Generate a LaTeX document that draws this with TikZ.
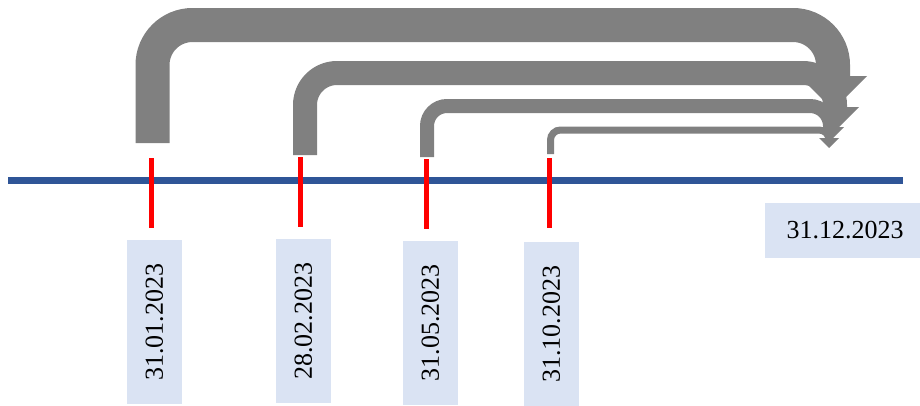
\documentclass[tikz,border=0pt]{standalone}
\usepackage{fontspec}
\setmainfont{Liberation Serif}
\begin{document}
\begin{tikzpicture}[x=1pt,y=-1pt,
  timeline/.style={draw={rgb,255:red,47;green,85;blue,151},line width=7pt},
  tick/.style={draw={rgb,255:red,255;green,0;blue,0},line width=5pt},
  datebox/.style={fill={rgb,255:red,218;green,227;blue,243},inner sep=0pt,
     font=\fontsize{26}{30}\selectfont},
  vbox/.style={datebox,rotate=90,minimum width=164pt,minimum height=55pt},
  bent/.style={draw={rgb,255:red,128;green,128;blue,128},line cap=butt},
  head/.style={fill={rgb,255:red,128;green,128;blue,128}}]
\useasboundingbox (0,0) rectangle (920,405);
\begin{scope}
\clip (0,0) rectangle (920,405);
% timeline
\coordinate (L) at (8,180);
\coordinate (R) at (903,180);
\draw[timeline] (L) -- (R);
% ticks
\coordinate (t1a) at (151,158); \coordinate (t1b) at (151,228);
\coordinate (t2a) at (300,157); \coordinate (t2b) at (300,227);
\coordinate (t3a) at (426,159); \coordinate (t3b) at (426,229);
\coordinate (t4a) at (549,158); \coordinate (t4b) at (549,228);
\draw[tick] (t1a) -- (t1b);
\draw[tick] (t2a) -- (t2b);
\draw[tick] (t3a) -- (t3b);
\draw[tick] (t4a) -- (t4b);
% labels
\node[vbox] (d1) at (154.5,322) {31.01.2023};
\node[vbox] (d2) at (303.5,321) {28.02.2023};
\node[vbox] (d3) at (430.5,322.5) {31.05.2023};
\node[vbox] (d4) at (551.5,324) {31.10.2023};
\node[datebox,minimum width=160pt,minimum height=55pt] (d5) at (845,230.5) {31.12.2023};
% arrow 1
\coordinate (a1s) at (152.5,143);
\coordinate (a1e) at (833,77);
\draw[bent,line width=34pt,rounded corners=40pt] (a1s) -- (152.5,25) -- (833,25) -- (a1e);
\fill[head] (799,76) -- (867,76) -- (833,110) -- cycle;
% arrow 2
\coordinate (a2s) at (305,155);
\coordinate (a2e) at (835,108);
\draw[bent,line width=24pt,rounded corners=32pt] (a2s) -- (305,73) -- (835,73) -- (a2e);
\fill[head] (811,107) -- (859,107) -- (835,131) -- cycle;
% arrow 3
\coordinate (a3s) at (427,157);
\coordinate (a3e) at (830,128);
\draw[bent,line width=14pt,rounded corners=20pt] (a3s) -- (427,106) -- (830,106) -- (a3e);
\fill[head] (816,127) -- (844,127) -- (830,141) -- cycle;
% arrow 4
\coordinate (a4s) at (550.5,154);
\coordinate (a4e) at (829,139);
\draw[bent,line width=7pt,rounded corners=10pt] (a4s) -- (550.5,130) -- (829,130) -- (a4e);
\fill[head] (819,138) -- (839,138) -- (829,148) -- cycle;
\end{scope}
\end{tikzpicture}
\end{document}
